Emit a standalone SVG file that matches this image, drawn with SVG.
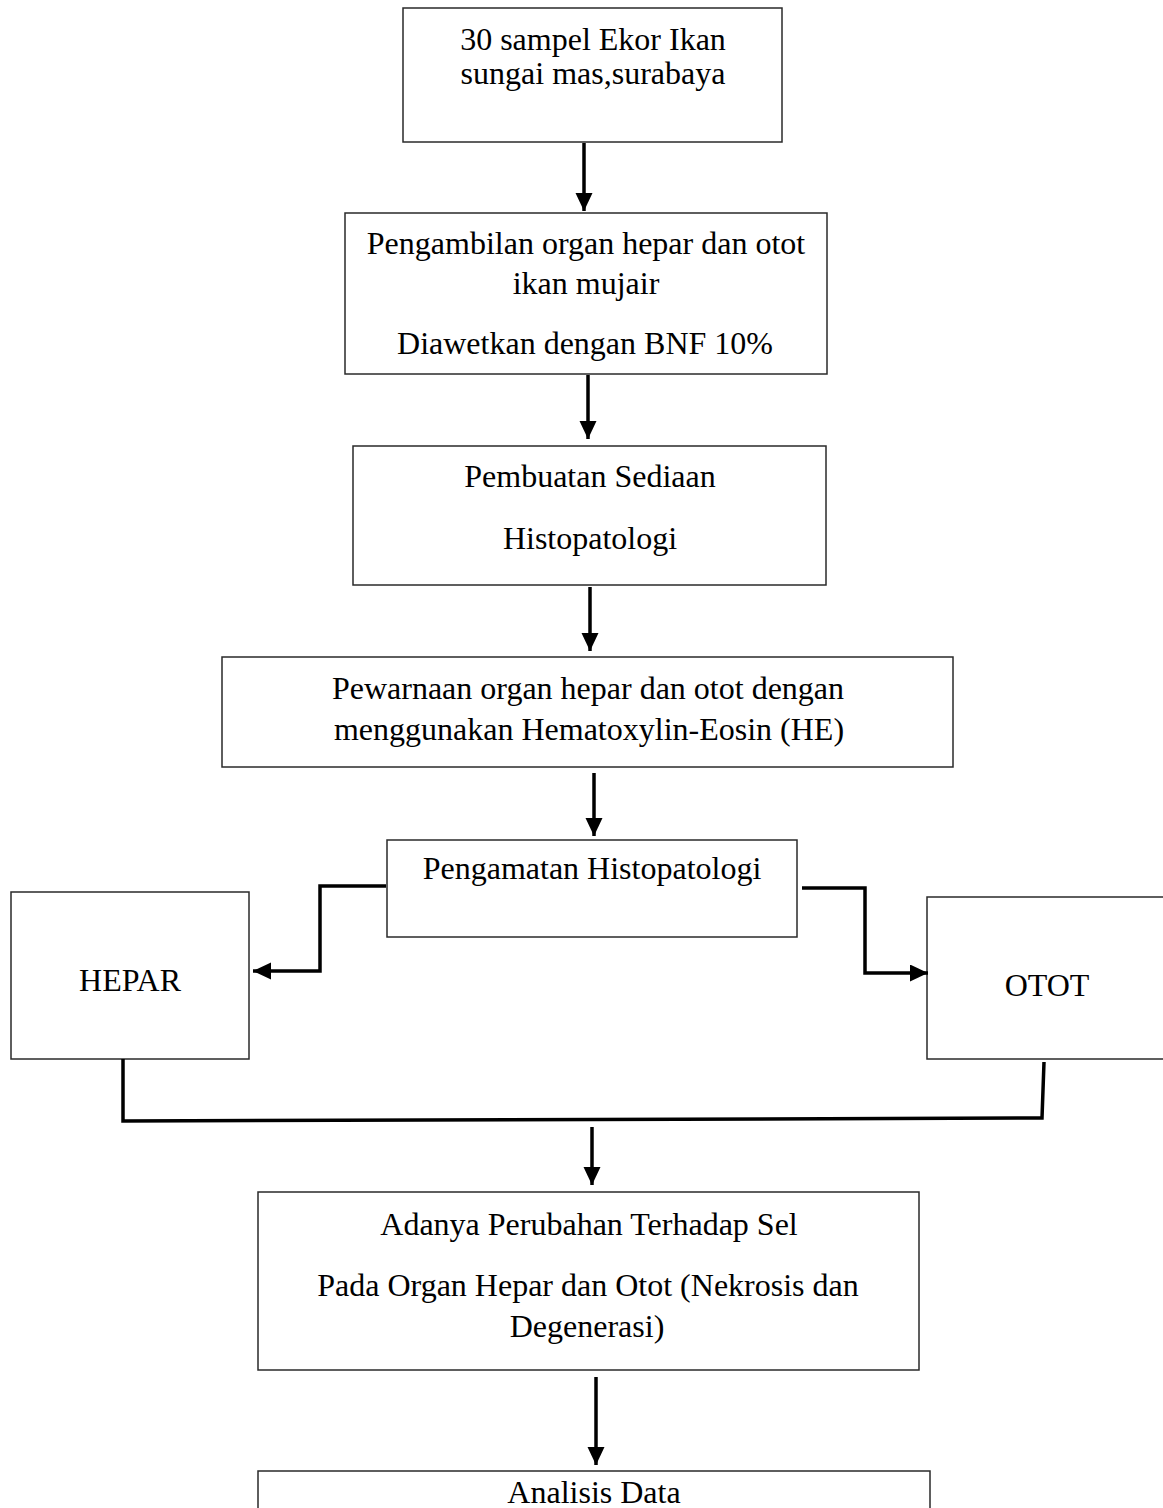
<svg xmlns="http://www.w3.org/2000/svg" width="1163" height="1508" viewBox="0 0 1163 1508">
<style>
.box{fill:#fff;stroke:#2a2a2a;stroke-width:1.5}
.t{font-family:"Liberation Serif","Times New Roman",serif;font-size:32px;fill:#000;text-anchor:middle}
.c{fill:none;stroke:#000;stroke-width:3.5}
</style>
<defs>
<marker id="ah" markerUnits="userSpaceOnUse" markerWidth="20" markerHeight="18" refX="18" refY="8.5" orient="auto">
<path d="M0,0 L18,8.5 L0,17 z" fill="#000"/>
</marker>
</defs>
<rect width="1163" height="1508" fill="#fff"/>
<g id="n1"><rect class="box" x="403" y="8" width="379" height="134"/>
<text class="t" x="593" y="50">30 sampel Ekor Ikan</text>
<text class="t" x="593" y="84">sungai mas,surabaya</text></g>
<g id="n2"><rect class="box" x="345" y="213" width="482" height="161"/>
<text class="t" x="586" y="254">Pengambilan organ hepar dan otot</text>
<text class="t" x="586" y="294">ikan mujair</text>
<text class="t" x="585" y="354">Diawetkan dengan BNF 10%</text></g>
<g id="n3"><rect class="box" x="353" y="446" width="473" height="139"/>
<text class="t" x="590" y="487">Pembuatan Sediaan</text>
<text class="t" x="590" y="549">Histopatologi</text></g>
<g id="n4"><rect class="box" x="222" y="657" width="731" height="110"/>
<text class="t" x="588" y="699">Pewarnaan organ hepar dan otot dengan</text>
<text class="t" x="589" y="740">menggunakan Hematoxylin-Eosin (HE)</text></g>
<g id="n5"><rect class="box" x="387" y="840" width="410" height="97"/>
<text class="t" x="592" y="879">Pengamatan Histopatologi</text></g>
<g id="n6"><rect class="box" x="11" y="892" width="238" height="167"/>
<text class="t" x="130" y="991">HEPAR</text></g>
<g id="n7"><rect class="box" x="927" y="897" width="250" height="162"/>
<text class="t" x="1047" y="996">OTOT</text></g>
<g id="n8"><rect class="box" x="258" y="1192" width="661" height="178"/>
<text class="t" x="589" y="1235">Adanya Perubahan Terhadap Sel</text>
<text class="t" x="588" y="1296">Pada Organ Hepar dan Otot (Nekrosis dan</text>
<text class="t" x="587" y="1337">Degenerasi)</text></g>
<g id="n9"><rect class="box" x="258" y="1471" width="672" height="60"/>
<text class="t" x="594" y="1503">Analisis Data</text></g>
<g id="connectors">
<path class="c" d="M584,143 V211" marker-end="url(#ah)"/>
<path class="c" d="M588,375 V439" marker-end="url(#ah)"/>
<path class="c" d="M590,587 V651" marker-end="url(#ah)"/>
<path class="c" d="M594,773 V836" marker-end="url(#ah)"/>
<path class="c" d="M386,886 H320 V971 H253" marker-end="url(#ah)"/>
<path class="c" d="M802,888 H865 V973 H928" marker-end="url(#ah)"/>
<path class="c" d="M123,1059 V1121 L1042,1118 L1044,1062"/>
<path class="c" d="M592,1127 V1185" marker-end="url(#ah)"/>
<path class="c" d="M596,1377 V1465" marker-end="url(#ah)"/>
</g>
</svg>
